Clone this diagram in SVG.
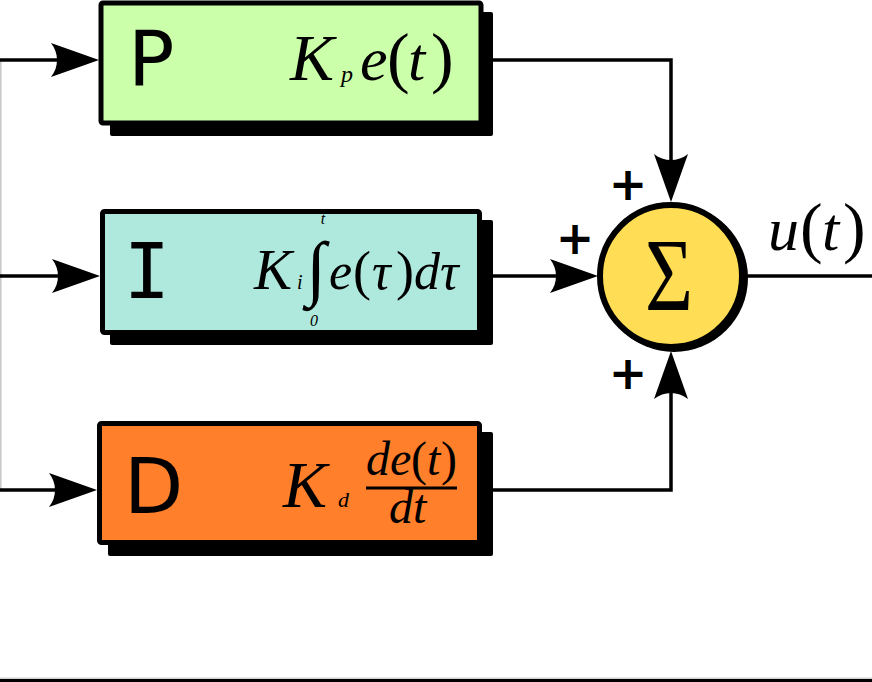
<svg xmlns="http://www.w3.org/2000/svg" width="872" height="682" viewBox="0 0 872 682">
<style>
.wire{fill:none;stroke:#000;stroke-width:3.5}
.box{stroke:#000;stroke-width:5}
.shadow{fill:#000}
.lbl{font-family:"DejaVu Sans",sans-serif;font-size:77px;fill:#000}
.m{font-family:"Liberation Serif",serif;font-style:italic;fill:#000}
.up{font-style:normal}
.plus{font-family:"DejaVu Sans",sans-serif;font-weight:bold;font-size:46px;fill:#000}
</style>
<defs>
<marker id="arr" markerUnits="userSpaceOnUse" viewBox="-50 -20 60 40" refX="0" refY="0" markerWidth="60" markerHeight="40" orient="auto">
<path d="M8,0 L-40,-17 C-32,-7 -32,7 -40,17 Z" fill="#000"/>
</marker>
</defs>
<rect x="0" y="0" width="872" height="682" fill="#fff"/>
<line x1="0.8" y1="60" x2="0.8" y2="490" stroke="#c8c8c8" stroke-width="1.6"/>
<line x1="0" y1="678.2" x2="872" y2="678.2" stroke="#bbb" stroke-width="1"/>
<rect x="0" y="679" width="872" height="3" fill="#000"/>
<g id="connectors">
<path class="wire" d="M0,60 H91" marker-end="url(#arr)"/>
<path class="wire" d="M0,276 H92" marker-end="url(#arr)"/>
<path class="wire" d="M0,490 H89" marker-end="url(#arr)"/>
<path class="wire" d="M482,60 H671 V194" marker-end="url(#arr)"/>
<path class="wire" d="M482,276 H590" marker-end="url(#arr)"/>
<path class="wire" d="M482,490 H671 V359" marker-end="url(#arr)"/>
<path class="wire" d="M740,276 H872"/>
</g>
<g id="P">
<rect class="shadow" x="110" y="12" width="383" height="124" rx="2"/>
<rect class="box" x="101" y="3" width="380" height="120" rx="2" fill="#ccffaa"/>
<text class="lbl" x="128" y="86">P</text>
<text class="m" font-size="62"><tspan x="290" y="80" font-size="66">K</tspan><tspan x="341" y="82" font-size="24">p</tspan><tspan x="360" y="80">e</tspan><tspan class="up" x="387" y="80" font-size="68">(</tspan><tspan x="408" y="80">t</tspan><tspan class="up" x="431" y="80" font-size="68">)</tspan></text>
</g>
<g id="I">
<rect class="shadow" x="110" y="220" width="383" height="125" rx="2"/>
<rect class="box" x="102.5" y="211.5" width="377" height="121" rx="2" fill="#afe9dd"/>
<text class="lbl" x="147" y="298" text-anchor="middle" style="font-family:'DejaVu Sans Mono',monospace">I</text>
<text class="m" font-size="52"><tspan x="254" y="289" font-size="57">K</tspan><tspan x="297" y="289" font-size="20">i</tspan><tspan x="329" y="289">e</tspan><tspan class="up" x="353" y="289" font-size="54">(</tspan><tspan x="372" y="289">τ</tspan><tspan class="up" x="396" y="289" font-size="54">)</tspan><tspan x="414" y="289">d</tspan><tspan x="440" y="289">τ</tspan></text>
<text class="m" x="316" y="292" font-size="72" text-anchor="middle" style="font-style:normal">∫</text>
<text class="m" x="323" y="224" font-size="16" text-anchor="middle">t</text>
<text class="m" x="314" y="326" font-size="16" text-anchor="middle">0</text>
</g>
<g id="D">
<rect class="shadow" x="108" y="432" width="385" height="124" rx="2"/>
<rect class="box" x="99.5" y="423.5" width="380" height="119" rx="2" fill="#ff7f2a"/>
<text class="lbl" x="124" y="513">D</text>
<text class="m" font-size="62"><tspan x="283" y="507" font-size="66">K</tspan><tspan x="338" y="507" font-size="22">d</tspan></text>
<text class="m" font-size="48"><tspan x="366" y="475">d</tspan><tspan x="390" y="475">e</tspan><tspan class="up" x="411" y="475" font-size="48">(</tspan><tspan x="427" y="475">t</tspan><tspan class="up" x="441" y="475" font-size="48">)</tspan></text>
<line x1="366" y1="488" x2="457" y2="488" stroke="#000" stroke-width="3"/>
<text class="m" font-size="48"><tspan x="389" y="523">d</tspan><tspan x="413" y="523">t</tspan></text>
</g>
<g id="sum">
<circle cx="674" cy="278" r="74" fill="#000"/>
<circle cx="671" cy="276" r="71" fill="#ffdd55" stroke="#000" stroke-width="6"/>
<text x="645" y="310" font-family="Liberation Serif, serif" font-size="104" textLength="48" lengthAdjust="spacingAndGlyphs">Σ</text>
</g>
<g id="signs">
<text class="plus" x="628" y="200" text-anchor="middle">+</text>
<text class="plus" x="575" y="254" text-anchor="middle">+</text>
<text class="plus" x="628" y="389" text-anchor="middle">+</text>
</g>
<g id="output-label">
<text class="m" font-size="62"><tspan x="768" y="250">u</tspan><tspan class="up" x="800" y="250" font-size="68">(</tspan><tspan x="822" y="250">t</tspan><tspan class="up" x="843" y="250" font-size="68">)</tspan></text>
</g>
</svg>
